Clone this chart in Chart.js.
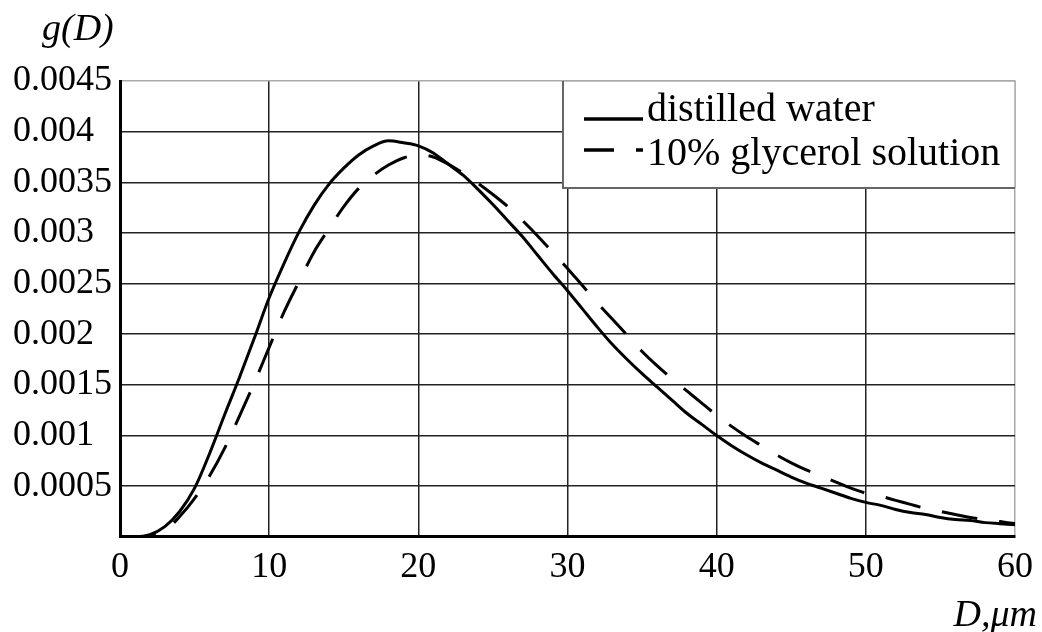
<!DOCTYPE html>
<html>
<head>
<meta charset="utf-8">
<script src="https://cdn.jsdelivr.net/npm/chart.js@4.4.0/dist/chart.umd.min.js"></script>
<style>
  html, body { margin: 0; padding: 0; background: #fff; }
  canvas { display: block; }
</style>
</head>
<body>
<canvas id="chart" width="1042" height="632"></canvas>
<script>
// Droplet diameter, um
const diameters = [
    0, 1, 2, 3, 4, 5, 6, 7, 8, 9,
    10, 11, 12, 13, 14, 15, 16, 17, 18, 19,
    20, 21, 22, 23, 24, 25, 26, 27, 28, 29,
    30, 31, 32, 33, 34, 35, 36, 37, 38, 39,
    40, 41, 42, 43, 44, 45, 46, 47, 48, 49,
    50, 51, 52, 53, 54, 55, 56, 57, 58, 59, 60
];

// g(D) for distilled water
const waterValues = [
    0, 0, 0.00002, 0.0001, 0.00025, 0.00048, 0.00082, 0.0012, 0.00157, 0.00196,
    0.00236, 0.0027, 0.00301, 0.00327, 0.00348, 0.00364, 0.00377, 0.00386, 0.00391, 0.00389,
    0.00386, 0.00379, 0.00368, 0.00357, 0.00343, 0.00328, 0.00312, 0.00296, 0.00278, 0.0026,
    0.00243, 0.00225, 0.00207, 0.0019, 0.00175, 0.00161, 0.00148, 0.00135, 0.00122, 0.00111,
    0.001, 0.0009, 0.00081, 0.00073, 0.00066, 0.00059, 0.00053, 0.00048, 0.00043, 0.00038,
    0.00034, 0.00031, 0.00027, 0.00024, 0.00022, 0.00019, 0.00017, 0.00016, 0.00014, 0.00013, 0.00012
];

// g(D) for 10% glycerol solution
const glycerolValues = [
    0, 0, 0.00001, 0.00006, 0.0002, 0.00038, 0.0006, 0.00087, 0.00119, 0.00152,
    0.00187, 0.00222, 0.00252, 0.00281, 0.00304, 0.00326, 0.00344, 0.00357, 0.00367, 0.00374,
    0.00377, 0.00375, 0.00368, 0.00359, 0.00349, 0.00338, 0.00326, 0.00312, 0.00297, 0.00281,
    0.00265, 0.00248, 0.00231, 0.00215, 0.00199, 0.00183, 0.00169, 0.00156, 0.00144, 0.00132,
    0.0012, 0.00109, 0.00099, 0.0009, 0.00081, 0.00073, 0.00066, 0.0006, 0.00054, 0.00048,
    0.00043, 0.0004, 0.00036, 0.00032, 0.00028, 0.00025, 0.00022, 0.00019, 0.00017, 0.00015, 0.00013
];

const seriesNames = ['distilled water', '10% glycerol solution'];

const xTicks = [0, 10, 20, 30, 40, 50, 60];
const xTickLabels = ['0', '10', '20', '30', '40', '50', '60'];
const yTicks = [0, 0.0005, 0.001, 0.0015, 0.002, 0.0025, 0.003, 0.0035, 0.004, 0.0045];
const yTickLabels = ['', '0.0005', '0.001', '0.0015', '0.002', '0.0025', '0.003', '0.0035', '0.004', '0.0045'];

const SERIF = '"Liberation Serif", "Times New Roman", serif';
const DASH = [36, 22];

const toPoints = vals => diameters.map((d, i) => ({ x: d, y: vals[i] }));

// axis captions and the boxed legend in the top right corner
const decorations = {
    id: 'decorations',
    afterDraw(chart) {
        const ctx = chart.ctx;
        const area = chart.chartArea;
        ctx.save();

        ctx.fillStyle = '#000';
        ctx.font = 'italic 38px ' + SERIF;
        ctx.textBaseline = 'alphabetic';
        ctx.textAlign = 'left';
        ctx.fillText('g(D)', 42, 40);
        ctx.textAlign = 'right';
        ctx.fillText('D,\u03bcm', 1037, 626);

        // legend box
        const bx = area.right - 452, by = area.top, bw = 452, bh = 107;
        ctx.fillStyle = '#fff';
        ctx.fillRect(bx, by, bw, bh);
        ctx.lineWidth = 1.5;
        ctx.strokeStyle = '#aaa';
        ctx.beginPath();
        ctx.moveTo(bx, by); ctx.lineTo(bx + bw, by); ctx.lineTo(bx + bw, by + bh);
        ctx.stroke();
        ctx.strokeStyle = '#666';
        ctx.lineWidth = 2;
        ctx.beginPath();
        ctx.moveTo(bx, by); ctx.lineTo(bx, by + bh); ctx.lineTo(bx + bw, by + bh);
        ctx.stroke();

        const rows = [
            { label: chart.data.datasets[0].label, lineY: by + 38, textY: by + 40, dash: [] },
            { label: chart.data.datasets[1].label, lineY: by + 69, textY: by + 84, dash: [30, 22] }
        ];
        ctx.font = '40px ' + SERIF;
        ctx.textAlign = 'left';
        rows.forEach(r => {
            ctx.strokeStyle = '#000';
            ctx.lineWidth = 3.5;
            ctx.setLineDash(r.dash);
            ctx.beginPath();
            ctx.moveTo(bx + 21, r.lineY);
            ctx.lineTo(bx + 80, r.lineY);
            ctx.stroke();
            ctx.setLineDash([]);
            ctx.fillStyle = '#000';
            ctx.fillText(r.label, bx + 84, r.textY);
        });

        ctx.restore();
    }
};

const lastX = xTicks[xTicks.length - 1];
const lastY = yTicks[yTicks.length - 1];

new Chart(document.getElementById('chart'), {
    type: 'line',
    data: {
        datasets: [
            {
                label: seriesNames[0],
                data: toPoints(waterValues),
                borderColor: '#000',
                borderWidth: 3,
                pointRadius: 0,
                cubicInterpolationMode: 'monotone',
                fill: false
            },
            {
                label: seriesNames[1],
                data: toPoints(glycerolValues),
                borderColor: '#000',
                borderWidth: 3,
                borderDash: DASH,
                pointRadius: 0,
                cubicInterpolationMode: 'monotone',
                fill: false
            }
        ]
    },
    options: {
        responsive: false,
        animation: false,
        layout: { autoPadding: false, padding: { left: 13, right: 24, top: 81, bottom: 34 } },
        plugins: {
            legend: { display: false },
            tooltip: { enabled: false }
        },
        scales: {
            x: {
                type: 'linear',
                min: 0,
                max: 60,
                afterBuildTicks: s => { s.ticks = xTicks.map(v => ({ value: v })); },
                ticks: {
                    padding: 9,
                    color: '#000',
                    font: { family: SERIF, size: 36 },
                    maxRotation: 0,
                    callback: (v, i) => xTickLabels[i]
                },
                grid: {
                    drawTicks: false,
                    lineWidth: 1.5,
                    color: ctx => (ctx.tick && ctx.tick.value === lastX) ? '#aaa' : '#222'
                },
                border: { color: '#000', width: 3 }
            },
            y: {
                type: 'linear',
                min: 0,
                max: 0.0045,
                afterBuildTicks: s => { s.ticks = yTicks.map(v => ({ value: v })); },
                ticks: {
                    padding: 4,
                    crossAlign: 'far',
                    color: '#000',
                    font: { family: SERIF, size: 36 },
                    callback: (v, i) => yTickLabels[i]
                },
                grid: {
                    drawTicks: false,
                    lineWidth: 1.5,
                    color: ctx => (ctx.tick && ctx.tick.value === lastY) ? '#aaa' : '#222'
                },
                border: { color: '#000', width: 3 }
            }
        }
    },
    plugins: [decorations]
});
</script>
</body>
</html>
